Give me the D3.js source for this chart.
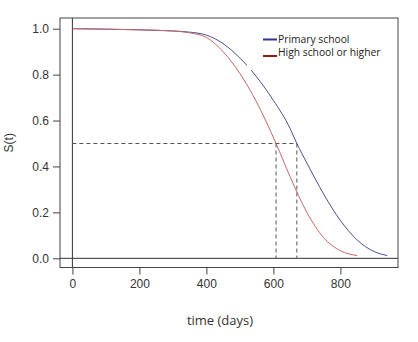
<!DOCTYPE html>
<html>
<head>
<meta charset="utf-8">
<script src="https://cdn.jsdelivr.net/npm/d3@7"></script>
<style>
  html, body { margin: 0; padding: 0; background: #fff; }
  svg { display: block; }
</style>
</head>
<body>
<svg id="chart" width="418" height="342"></svg>
<script>
// Survival estimates S(t) by education level
const primaryTime = [0, 100, 200, 300, 350, 400, 450, 500, 520, 550, 600, 650, 670, 700, 750, 800, 850, 900, 940];
const primarySurv = [1.0, 0.998, 0.995, 0.99, 0.985, 0.972, 0.935, 0.872, 0.842, 0.79, 0.688, 0.565, 0.5, 0.415, 0.28, 0.165, 0.08, 0.03, 0.012];

const highTime = [0, 100, 200, 300, 350, 400, 450, 500, 550, 608, 650, 700, 750, 800, 850];
const highSurv = [1.0, 0.998, 0.995, 0.99, 0.982, 0.962, 0.9, 0.805, 0.68, 0.5, 0.355, 0.2, 0.09, 0.033, 0.012];

// Median survival times (S = 0.5)
const medianLevel = 0.5;
const medianTimes = [608, 670];

const xTicks = [0, 200, 400, 600, 800];
const yTicks = [0.0, 0.2, 0.4, 0.6, 0.8, 1.0];

const seriesNames = ["Primary school", "High school or higher"];
const curveColors = ["#4a4f8e", "#c4686a"];
const keyColors = ["#2e3590", "#8e1c12"];

const svg = d3.select("#chart");
const box = { left: 60, right: 398, top: 18, bottom: 267.5 };

const x = d3.scaleLinear().domain([-37, 972]).range([box.left, box.right]);
const y = d3.scaleLinear().domain([-0.04, 1.04]).range([box.bottom, 19.5]);

const axisColor = "#444";

// Reference lines t = 0 and S = 0
svg.append("line")
  .attr("x1", x(0)).attr("x2", x(0))
  .attr("y1", box.top).attr("y2", box.bottom)
  .attr("stroke", "#333").attr("stroke-width", 1);
svg.append("line")
  .attr("x1", box.left).attr("x2", box.right)
  .attr("y1", y(0)).attr("y2", y(0))
  .attr("stroke", "#333").attr("stroke-width", 1);

// Median guides
const dash = "4,3";
svg.append("line")
  .attr("x1", x(0)).attr("x2", x(d3.max(medianTimes)))
  .attr("y1", y(medianLevel)).attr("y2", y(medianLevel))
  .attr("stroke", "#555").attr("stroke-width", 1).attr("stroke-dasharray", dash);
svg.selectAll("line.median")
  .data(medianTimes)
  .enter().append("line")
  .attr("class", "median")
  .attr("x1", d => x(d)).attr("x2", d => x(d))
  .attr("y1", y(medianLevel)).attr("y2", y(0))
  .attr("stroke", "#555").attr("stroke-width", 1).attr("stroke-dasharray", dash);

// Survival curves
const line = d3.line()
  .x(d => x(d[0]))
  .y(d => y(d[1]))
  .curve(d3.curveMonotoneX);

const series = [
  d3.zip(primaryTime, primarySurv),
  d3.zip(highTime, highSurv)
];

svg.selectAll("path.curve")
  .data(series)
  .enter().append("path")
  .attr("class", "curve")
  .attr("d", line)
  .attr("fill", "none")
  .attr("stroke", (d, i) => curveColors[i])
  .attr("stroke-width", 1);

// Plot frame
svg.append("rect")
  .attr("x", box.left).attr("y", box.top)
  .attr("width", box.right - box.left).attr("height", box.bottom - box.top)
  .attr("fill", "none").attr("stroke", axisColor).attr("stroke-width", 1);

// Axes
const xAxis = d3.axisBottom(x).tickValues(xTicks).tickSize(7).tickPadding(5).tickFormat(d3.format("d"));
const yAxis = d3.axisLeft(y).tickValues(yTicks).tickSize(7).tickPadding(4).tickFormat(d3.format(".1f"));

const gx = svg.append("g").attr("transform", `translate(0,${box.bottom})`).call(xAxis);
const gy = svg.append("g").attr("transform", `translate(${box.left},0)`).call(yAxis);
[gx, gy].forEach(g => {
  g.select(".domain").remove();
  g.selectAll(".tick line").attr("stroke", axisColor);
  g.selectAll(".tick text")
    .attr("fill", "#333")
    .style("font-family", "'Liberation Sans', Arial, sans-serif")
    .style("font-size", "12px");
});

// Axis titles
svg.append("text")
  .attr("transform", `translate(13,${(box.top + box.bottom) / 2}) rotate(-90)`)
  .attr("text-anchor", "middle")
  .attr("fill", "#333")
  .style("font-family", "'Liberation Sans', Arial, sans-serif")
  .style("font-size", "12px")
  .text("S(t)");

svg.append("text")
  .attr("x", 220).attr("y", 325)
  .attr("text-anchor", "middle")
  .attr("fill", "#333")
  .style("font-family", "'Open Sans', sans-serif")
  .style("font-size", "13px")
  .text("time (days)");

// Legend
const legend = svg.append("g");
legend.append("rect")
  .attr("x", 247).attr("y", 24).attr("width", 149).attr("height", 46)
  .attr("fill", "#fff");
const items = legend.selectAll("g.item")
  .data(seriesNames)
  .enter().append("g")
  .attr("class", "item");
const keyY = [39.5, 56];
const textY = [39.5, 52.5];
items.append("line")
  .attr("x1", 263).attr("x2", 277)
  .attr("y1", (d, i) => keyY[i]).attr("y2", (d, i) => keyY[i])
  .attr("stroke", (d, i) => keyColors[i]).attr("stroke-width", 2);
items.append("text")
  .attr("x", 278).attr("y", (d, i) => textY[i])
  .attr("dy", "0.35em")
  .attr("fill", "#222")
  .style("font-family", "'Open Sans', sans-serif")
  .style("font-size", "10.3px")
  .text(d => d);
</script>
</body>
</html>
